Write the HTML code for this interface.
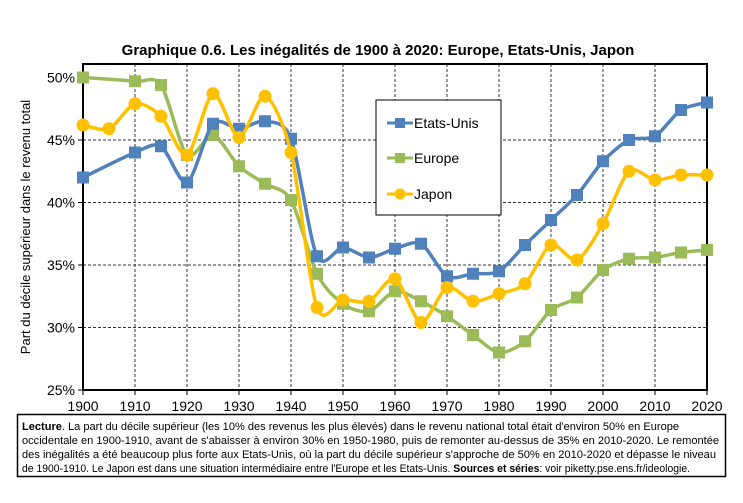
<!DOCTYPE html>
<html><head><meta charset="utf-8"><style>
body{margin:0;background:#fff}
svg{display:block;font-family:"Liberation Sans",Arial,sans-serif}
</style></head><body>
<svg id="chart" width="743" height="503" viewBox="0 0 743 503">
<text x="378" y="55" text-anchor="middle" font-size="15" font-weight="bold">Graphique 0.6. Les inégalités de 1900 à 2020: Europe, Etats-Unis, Japon</text>
<g id="grid"></g>
<g id="axes"></g>
<text transform="translate(30,227) rotate(-90)" text-anchor="middle" font-size="13">Part du décile supérieur dans le revenu total</text>
<g id="series"></g>
<g>
<rect x="376" y="100" width="125" height="115" fill="#fff" stroke="#000" stroke-width="1"/>
<g><line x1="387" y1="123" x2="413" y2="123" stroke="#4f81bd" stroke-width="3"/><rect x="395" y="118" width="10" height="10" fill="#4f81bd"/><text x="414" y="128" font-size="14">Etats-Unis</text></g>
<g><line x1="387" y1="158" x2="413" y2="158" stroke="#9bbb59" stroke-width="3"/><rect x="395" y="153" width="10" height="10" fill="#9bbb59"/><text x="414" y="163" font-size="14">Europe</text></g>
<g><line x1="387" y1="194" x2="413" y2="194" stroke="#ffc000" stroke-width="3"/><circle cx="400" cy="194" r="5.5" fill="#ffc000"/><text x="414" y="199" font-size="14">Japon</text></g>
</g>
<g>
<rect x="17.5" y="414.5" width="708" height="62" fill="#fff" stroke="#000" stroke-width="1.5"/>
<g font-size="11">
<text x="22" y="430" textLength="657" lengthAdjust="spacingAndGlyphs"><tspan font-weight="bold">Lecture</tspan>. La part du décile supérieur (les 10% des revenus les plus élevés) dans le revenu national total était d'environ 50% en Europe</text>
<text x="22" y="444" textLength="697" lengthAdjust="spacingAndGlyphs">occidentale en 1900-1910, avant de s'abaisser à environ 30% en 1950-1980, puis de remonter au-dessus de 35% en 2010-2020. Le remontée</text>
<text x="22" y="458" textLength="694" lengthAdjust="spacingAndGlyphs">des inégalités a été beaucoup plus forte aux Etats-Unis, où la part du décile supérieur s'approche de 50% en 2010-2020 et dépasse le niveau</text>
<text x="22" y="472" textLength="668" lengthAdjust="spacingAndGlyphs">de 1900-1910. Le Japon est dans une situation intermédiaire entre l'Europe et les Etats-Unis. <tspan font-weight="bold">Sources et séries</tspan>: voir piketty.pse.ens.fr/ideologie.</text>
</g>
</g>
</svg>
<script>
const years = [1900,1905,1910,1915,1920,1925,1930,1935,1940,1945,1950,1955,1960,1965,1970,1975,1980,1985,1990,1995,2000,2005,2010,2015,2020];
const usYears = [1900,1910,1915,1920,1925,1930,1935,1940,1945,1950,1955,1960,1965,1970,1975,1980,1985,1990,1995,2000,2005,2010,2015,2020];
const usValues = [42,44,44.5,41.6,46.3,45.9,46.5,45.1,35.7,36.4,35.6,36.3,36.7,34.1,34.3,34.5,36.6,38.6,40.6,43.3,45,45.3,47.4,48];
const euYears = usYears;
const euValues = [50,49.7,49.4,43.8,45.4,42.9,41.5,40.2,34.3,31.9,31.3,32.9,32.1,30.9,29.4,28,28.9,31.4,32.4,34.6,35.5,35.6,36,36.2];
const jpYears = years;
const jpValues = [46.2,45.9,47.9,46.9,43.8,48.7,45.2,48.5,44,31.6,32.2,32.1,33.9,30.4,33.2,32.1,32.7,33.5,36.6,35.4,38.3,42.5,41.8,42.2,42.2];
const yTicks = [25,30,35,40,45,50];
const xTicks = [1900,1910,1920,1930,1940,1950,1960,1970,1980,1990,2000,2010,2020];

const NS="http://www.w3.org/2000/svg";
const X0=83,X1=707,Y0=390,Y1=77.5;
const xs=y=>X0+(y-1900)/120*(X1-X0);
const ys=v=>Y0-(v-25)/25*(Y0-Y1);
function mk(t,a,p){const e=document.createElementNS(NS,t);for(const k in a)e.setAttribute(k,a[k]);p.appendChild(e);return e;}
const grid=document.getElementById('grid'),axes=document.getElementById('axes'),ser=document.getElementById('series');
xTicks.forEach(t=>{
  if(t>1900&&t<2020){const l=mk('line',{x1:xs(t),x2:xs(t),y1:64,y2:Y0,stroke:'#333','stroke-width':1,'stroke-dasharray':'3,2'},grid);
  
  }
  mk('line',{x1:xs(t),x2:xs(t),y1:Y0,y2:Y0+5,stroke:'#000','stroke-width':1},axes);
  const tx=mk('text',{x:xs(t),y:Y0+21,'text-anchor':'middle','font-size':14},axes);tx.textContent=t;
  
  
});
yTicks.forEach(t=>{
  if(t>25&&t<50){const l=mk('line',{x1:X0,x2:X1,y1:ys(t),y2:ys(t),stroke:'#333','stroke-width':1,'stroke-dasharray':'3,2'},grid);
  
  }
  mk('line',{x1:X0-5,x2:X0,y1:ys(t),y2:ys(t),stroke:'#000'},axes);
  const tx=mk('text',{x:X0-8,y:ys(t)+5,'text-anchor':'end','font-size':14},axes);tx.textContent=t+'%';
  
  
});
const fr=mk('rect',{x:X0,y:64,width:X1-X0,height:Y0-64,fill:'none',stroke:'#000','stroke-width':2},axes);


function smooth(pts){let d=`M${pts[0][0]},${pts[0][1]}`;
  for(let i=0;i<pts.length-1;i++){const p0=pts[i-1]||pts[i],p1=pts[i],p2=pts[i+1],p3=pts[i+2]||p2;const t=0.14;
    const c1=[p1[0]+(p2[0]-p0[0])*t,p1[1]+(p2[1]-p0[1])*t],c2=[p2[0]-(p3[0]-p1[0])*t,p2[1]-(p3[1]-p1[1])*t];
    d+=` C${c1[0]},${c1[1]} ${c2[0]},${c2[1]} ${p2[0]},${p2[1]}`;}return d;}
function draw(yrs,vals,col,shape,name){
  const g=mk('g',{},ser);
  
  
  const pts=yrs.map((y,i)=>[xs(y),ys(vals[i])]);
  mk('path',{d:smooth(pts),fill:'none',stroke:col,'stroke-width':3.5},g);
  pts.forEach(p=>{const m=shape==='sq'?mk('rect',{x:p[0]-6,y:p[1]-6,width:12,height:12,fill:col},g):mk('circle',{cx:p[0],cy:p[1],r:6.5,fill:col},g);
    
    });
}
draw(euYears,euValues,'#9bbb59','sq','europe');
draw(usYears,usValues,'#4f81bd','sq','us');
draw(jpYears,jpValues,'#ffc000','ci','japon');
</script>
</body></html>
